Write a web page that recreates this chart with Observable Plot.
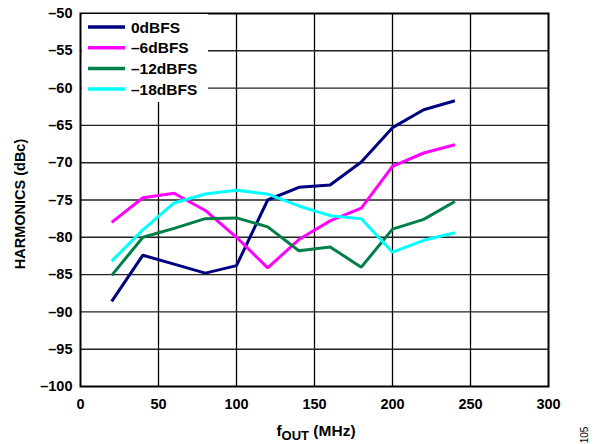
<!DOCTYPE html>
<html>
<head>
<meta charset="utf-8">
<script src="https://cdn.jsdelivr.net/npm/d3@7"></script>
<script src="https://cdn.jsdelivr.net/npm/@observablehq/plot@0.6"></script>
<style>
  html, body { margin: 0; padding: 0; background: #fff; }
  #wrap { position: relative; width: 596px; height: 444px; font-family: "Liberation Sans", Arial, sans-serif; }
  #legend { position: absolute; left: 82px; top: 14px; width: 126px; height: 88px; background: #fff; }
</style>
</head>
<body>
<div id="wrap"></div>
<script>
const freq = [20, 40, 60, 80, 100, 120, 140, 160, 180, 200, 220, 240];
const seriesNames = ["0dBFS", "–6dBFS", "–12dBFS", "–18dBFS"];
const seriesColors = ["#000080", "#ff00ff", "#007f46", "#00ffff"];
const s0  = [-88.6, -82.4, -83.6, -84.8, -83.8, -75.0, -73.3, -73.0, -69.9, -65.3, -62.9, -61.7];
const s6  = [-78.0, -74.7, -74.1, -76.4, -80.0, -84.1, -80.3, -77.8, -76.1, -70.5, -68.7, -67.6];
const s12 = [-85.1, -80.0, -78.8, -77.5, -77.4, -78.6, -81.8, -81.3, -84.0, -78.9, -77.6, -75.2];
const s18 = [-83.2, -79.0, -75.4, -74.2, -73.7, -74.2, -75.8, -77.1, -77.5, -82.0, -80.4, -79.4];
const xTicks = [0, 50, 100, 150, 200, 250, 300];
const yTicks = [-100, -95, -90, -85, -80, -75, -70, -65, -60, -55, -50];

const allSeries = [s0, s6, s12, s18];
const data = [];
allSeries.forEach((vals, i) => vals.forEach((v, j) => data.push({f: freq[j], v, s: seriesNames[i]})));

const fmt = d => String(d).replace("-", "\u2013");

const chart = Plot.plot({
  width: 596,
  height: 444,
  marginLeft: 80,
  marginRight: 48,
  marginTop: 13,
  marginBottom: 58,
  style: {fontFamily: "'Liberation Sans', Arial, sans-serif", fontWeight: "bold", background: "#fff"},
  x: {domain: [0, 300], ticks: xTicks},
  y: {domain: [-100, -50], ticks: yTicks},
  color: {domain: seriesNames, range: seriesColors},
  marks: [
    Plot.ruleX(xTicks.slice(1, -1), {stroke: "#000", strokeWidth: 1.3}),
    Plot.ruleY(yTicks.slice(1, -1), {stroke: "#222", strokeWidth: 1.4}),
    Plot.line(data, {x: "f", y: "v", z: "s", stroke: "s", strokeWidth: 3, strokeLinejoin: "miter", strokeLinecap: "butt"}),
    Plot.frame({stroke: "#000", strokeWidth: 2}),
    Plot.axisX({ticks: xTicks, tickSize: 0, tickPadding: 12, tickFormat: fmt, fontSize: 14.5, label: null}),
    Plot.axisY({ticks: yTicks, tickSize: 0, tickPadding: 8, tickFormat: fmt, fontSize: 14.5, label: null})
  ]
});

const wrap = document.getElementById("wrap");
wrap.appendChild(chart);

const svg = d3.select(chart);
// y-axis title
svg.append("text")
  .attr("transform", "translate(25,204) rotate(-90)")
  .attr("text-anchor", "middle")
  .attr("font-size", 14.5)
  .attr("font-weight", "bold")
  .attr("fill", "#000")
  .text("HARMONICS (dBc)");
// x-axis title with subscript
const xl = svg.append("text")
  .attr("x", 316).attr("y", 436)
  .attr("text-anchor", "middle")
  .attr("font-size", 15.5)
  .attr("font-weight", "bold")
  .attr("fill", "#000");
xl.append("tspan").text("f");
xl.append("tspan").attr("font-size", 13).attr("dy", 4).text("OUT");
xl.append("tspan").attr("dy", -4).text(" (MHz)");
// figure number
svg.append("text")
  .attr("transform", "translate(588,435) rotate(-90)")
  .attr("text-anchor", "middle")
  .attr("font-size", 10)
  .attr("font-weight", "normal")
  .attr("fill", "#000")
  .text("105");

// legend
const leg = d3.select(wrap).append("div").attr("id", "legend");
const lsvg = leg.append("svg").attr("width", 126).attr("height", 88);
seriesNames.forEach((name, i) => {
  const y = 13 + i * 20.7;
  lsvg.append("line").attr("x1", 6).attr("x2", 43).attr("y1", y).attr("y2", y)
    .attr("stroke", seriesColors[i]).attr("stroke-width", 3.5);
  lsvg.append("text").attr("x", 49).attr("y", y + 5.5)
    .attr("font-size", 15.5).attr("font-weight", "bold")
    .attr("font-family", "'Liberation Sans', Arial, sans-serif")
    .text(name);
});
</script>
</body>
</html>
